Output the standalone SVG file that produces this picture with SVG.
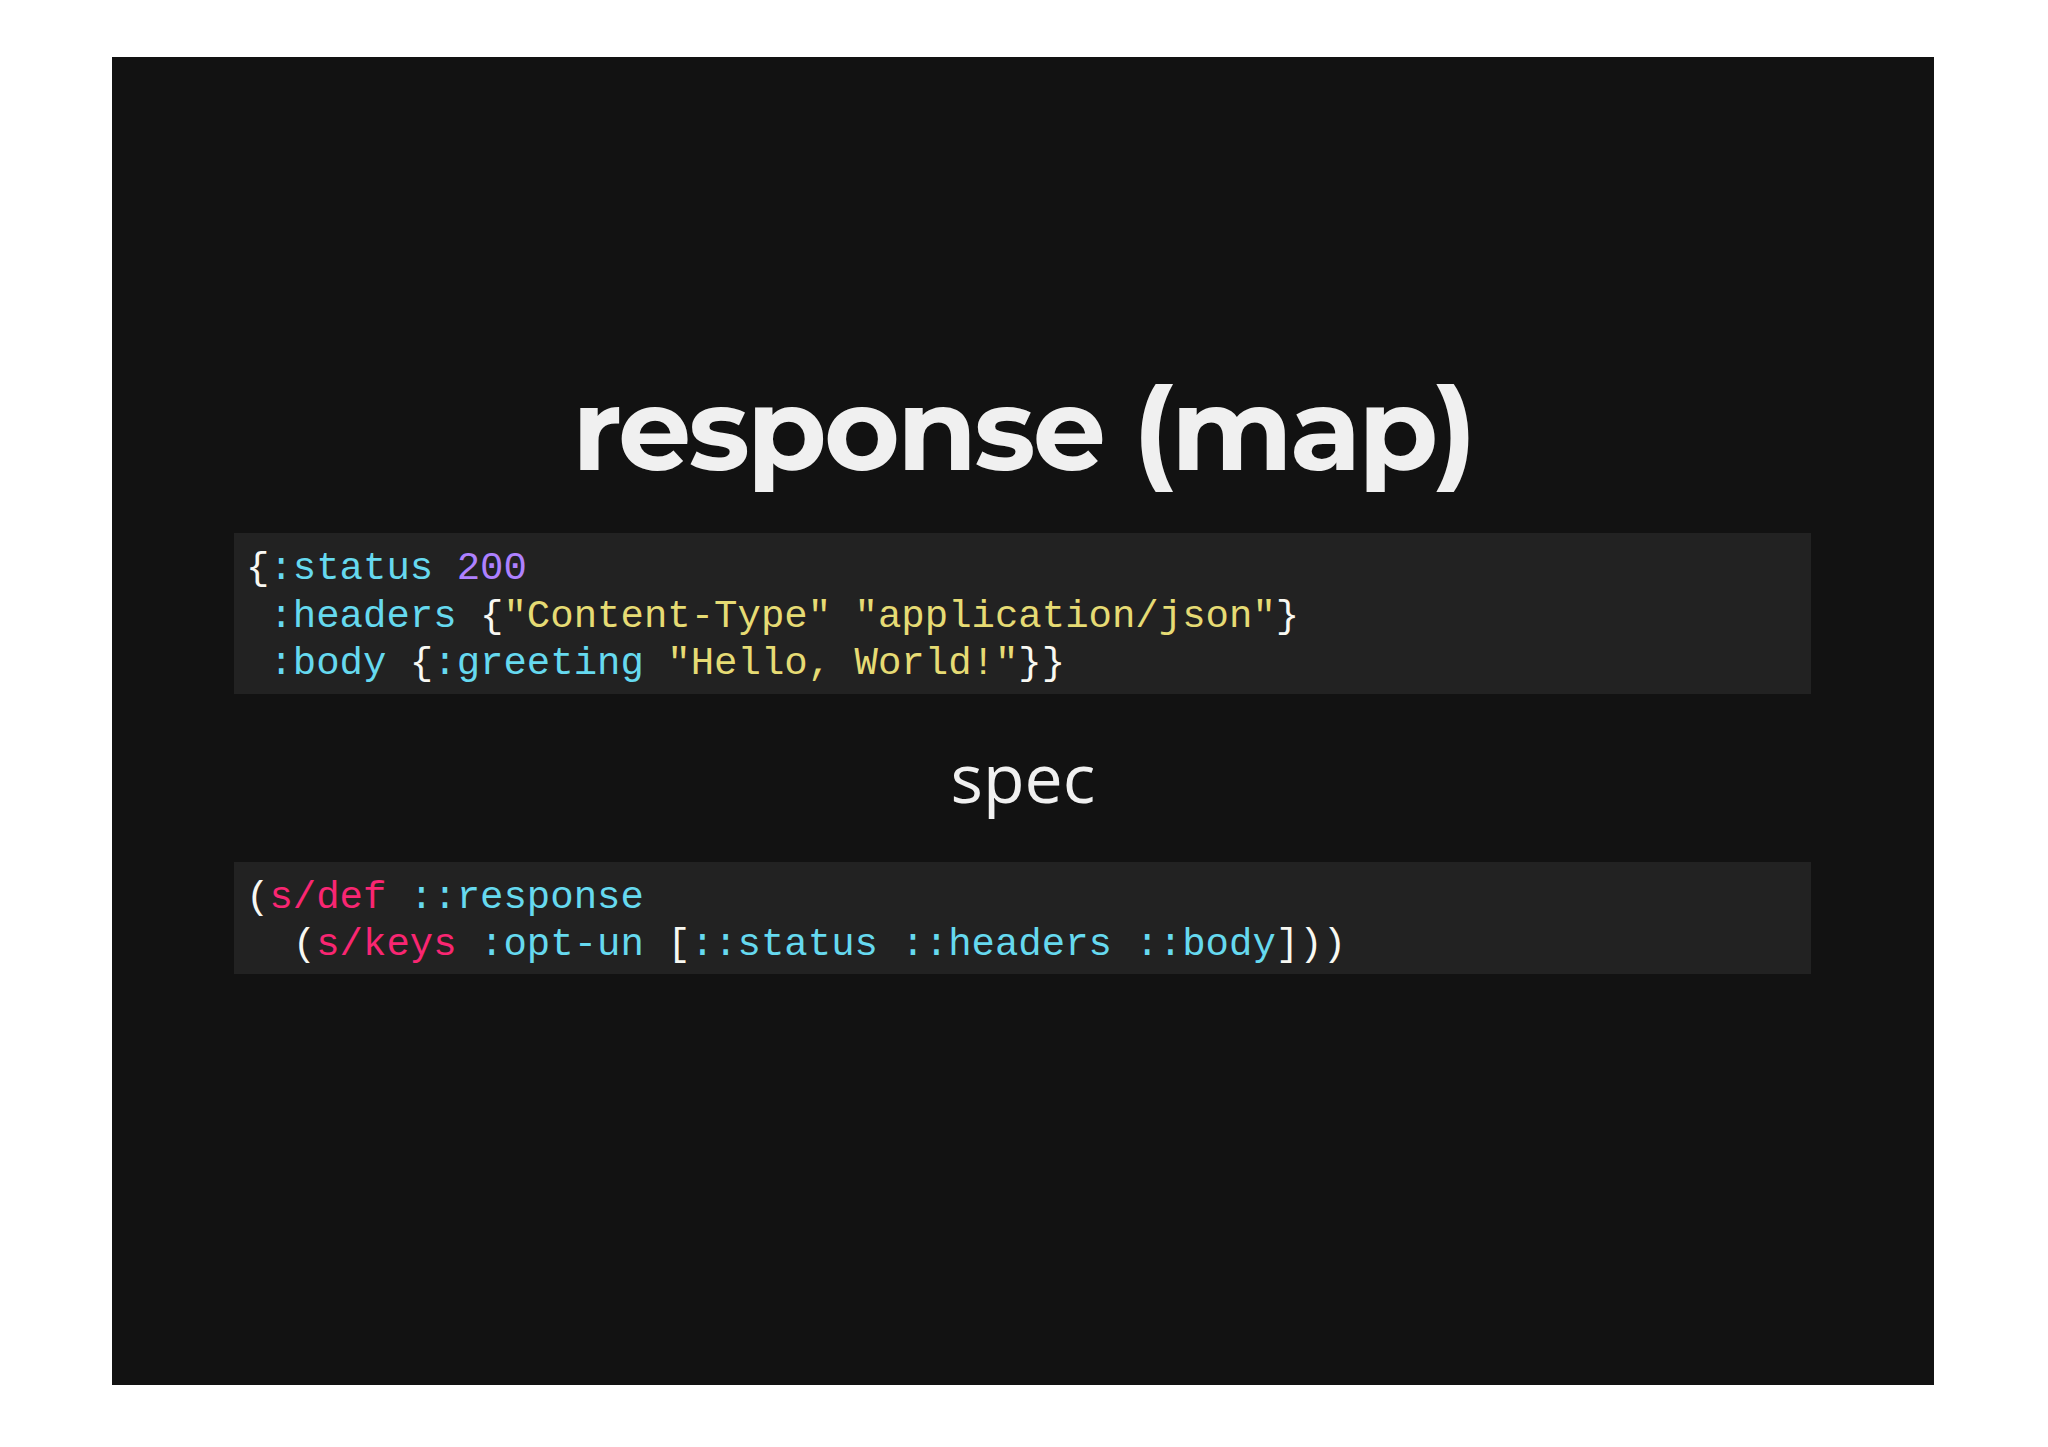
<svg xmlns="http://www.w3.org/2000/svg" width="2048" height="1447" viewBox="0 0 2048 1447">
<style>
.c{font-family:"Liberation Mono",monospace;font-size:39px;fill:#f8f8f2;white-space:pre}
.k{fill:#66d9ef}.n{fill:#ae81ff}.s{fill:#e6db74}.f{fill:#f92672}
</style>
<rect width="2048" height="1447" fill="#ffffff"/>
<rect x="112" y="57" width="1822" height="1328" fill="#121212"/>
<g id="title"><text x="1023" y="470" text-anchor="middle" font-family="Montserrat, 'Liberation Sans', sans-serif" font-weight="bold" font-size="116" fill="#f0f0f0" letter-spacing="-3">response (map)</text></g>
<g id="code1">
<rect x="234" y="533" width="1577" height="161" fill="#222222"/>
<text class="c" x="246" y="579" xml:space="preserve">{<tspan class="k">:status</tspan> <tspan class="n">200</tspan></text>
<text class="c" x="246" y="627" xml:space="preserve"> <tspan class="k">:headers</tspan> {<tspan class="s">"Content-Type"</tspan> <tspan class="s">"application/json"</tspan>}</text>
<text class="c" x="246" y="674" xml:space="preserve"> <tspan class="k">:body</tspan> {<tspan class="k">:greeting</tspan> <tspan class="s">"Hello, World!"</tspan>}}</text>
</g>
<g id="spec"><text x="1023" y="803" text-anchor="middle" font-family="'Open Sans', sans-serif" font-size="68" fill="#f0f0f0">spec</text></g>
<g id="code2">
<rect x="234" y="862" width="1577" height="112" fill="#222222"/>
<text class="c" x="246" y="908" xml:space="preserve">(<tspan class="f">s/def</tspan> <tspan class="k">::response</tspan></text>
<text class="c" x="246" y="955" xml:space="preserve">  (<tspan class="f">s/keys</tspan> <tspan class="k">:opt-un</tspan> [<tspan class="k">::status</tspan> <tspan class="k">::headers</tspan> <tspan class="k">::body</tspan>]))</text>
</g>
</svg>
